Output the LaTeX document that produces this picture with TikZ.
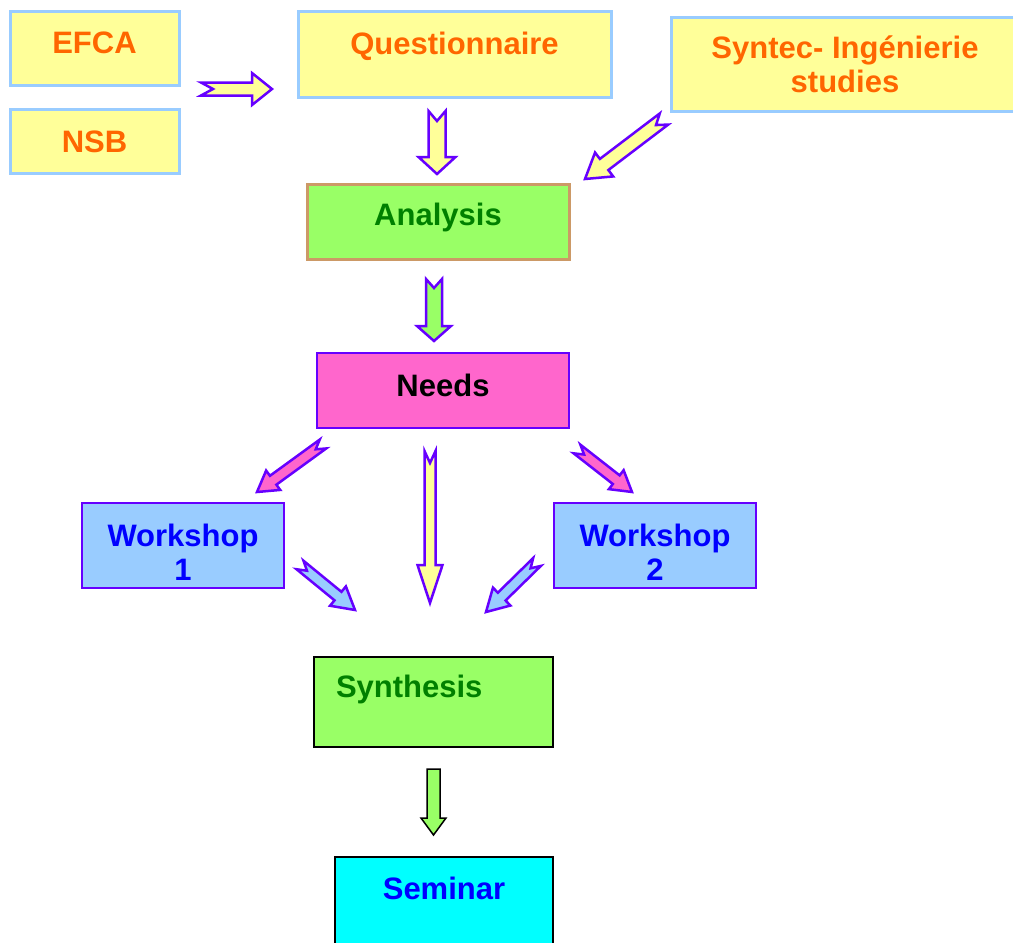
\documentclass[tikz,border=0pt]{standalone}
\usepackage{fontspec}
\setmainfont{Liberation Sans}
\usepackage{xcolor}
\usetikzlibrary{calc}
\definecolor{paleyellow}{HTML}{FFFF99}
\definecolor{skyline}{HTML}{99CCFF}
\definecolor{orangetxt}{HTML}{FF6600}
\definecolor{limefill}{HTML}{99FF66}
\definecolor{darkgreen}{HTML}{008000}
\definecolor{tanline}{HTML}{CC9966}
\definecolor{pinkfill}{HTML}{FF66CC}
\definecolor{violetline}{HTML}{6600FF}
\definecolor{bluetxt}{HTML}{0000FF}
\definecolor{cyanfill}{HTML}{00FFFF}
% block arrow: [style]{tail}{tip}{shaft half}{head half}{head length}{notch}
\newcommand{\flowarr}[7][arr]{%
  \coordinate (fh) at ($(#3)!#6!(#2)$);
  \draw[#1] ($(#2)!#4!90:(#3)$) -- ($(fh)!#4!90:(#3)$) -- ($(fh)!#5!90:(#3)$) -- (#3)
    -- ($(fh)!#5!-90:(#3)$) -- ($(fh)!#4!-90:(#3)$) -- ($(#2)!#4!-90:(#3)$)
    -- ($(#2)!#7!(#3)$) -- cycle;
}

\begin{document}
\begin{tikzpicture}[x=1pt, y=-1pt,
  box/.style={rectangle, line width=2.5pt, font=\fontsize{31}{34}\selectfont\bfseries, align=center, inner sep=0pt},
  lift/.style={text height=22pt, text depth=#1},
  src/.style={box, fill=paleyellow, draw=skyline, text=orangetxt, line width=3pt},
  wsbox/.style={box, fill=skyline, draw=violetline, text=bluetxt, minimum width=202pt, minimum height=85pt},
  wstext/.style={font=\fontsize{31}{34}\selectfont\bfseries, text=bluetxt, align=center, inner sep=0pt, yshift=-7pt},
  arr/.style={draw=violetline, line width=2.5pt, line join=miter}
]
\useasboundingbox (0,0) rectangle (1013,943);
\node[src, lift=11pt, minimum width=169pt, minimum height=74pt] (efca) at (94.5,48) {EFCA};
\node[src, lift=0pt, minimum width=169pt, minimum height=64pt] (nsb) at (94.5,141) {NSB};
\node[src, lift=22pt, minimum width=313pt, minimum height=86pt] (quest) at (454.5,54) {Questionnaire};
\node[src, minimum width=348pt, minimum height=94pt] (syntec) at (845,64) {Syntec- Ingénierie\\studies};
\node[box, fill=limefill, draw=tanline, line width=3pt, text=darkgreen, lift=15pt, minimum width=262pt, minimum height=75pt] (analysis) at (438,221.5) {Analysis};
\node[box, fill=pinkfill, draw=violetline, text=black, lift=11pt, minimum width=252pt, minimum height=75pt] (needs) at (443,390.5) {Needs};
\node[wsbox, label={[wstext]center:Workshop\\1}] (ws1) at (183,545.5) {};
\node[wsbox, label={[wstext]center:Workshop\\2}] (ws2) at (655,545.5) {};
\node[box, fill=limefill, draw=black, line width=2pt, text=darkgreen, lift=32pt, text width=195pt, align=left, inner xsep=22pt, minimum height=90pt] (synth) at (433.5,702) {Synthesis};
\node[box, fill=cyanfill, draw=black, line width=2pt, text=bluetxt, lift=28pt, minimum width=218pt, minimum height=90pt] (seminar) at (444,902) {Seminar};
% arrow ends
\coordinate (src-t) at (201,89);   \coordinate (src-h) at (272,89);
\coordinate (quest-t) at (437,111); \coordinate (quest-h) at (437,174);
\coordinate (syn-t) at (664,119);  \coordinate (syn-h) at (585,179);
\coordinate (ana-t) at (434,279);  \coordinate (ana-h) at (434,341);
\coordinate (nl-t) at (323,444);   \coordinate (nl-h) at (257,492);
\coordinate (nm-t) at (430,451);   \coordinate (nm-h) at (430,603);
\coordinate (nr-t) at (577,449);   \coordinate (nr-h) at (632,492);
\coordinate (wl-t) at (300,565);   \coordinate (wl-h) at (355,610);
\coordinate (wr-t) at (537,562);   \coordinate (wr-h) at (486,612);
\coordinate (syn2-t) at (433.5,769); \coordinate (syn2-h) at (433.5,835);
\flowarr[arr, fill=paleyellow]{src-t}{src-h}{6.5pt}{16pt}{20pt}{12pt}
\flowarr[arr, fill=paleyellow]{quest-t}{quest-h}{8.5pt}{18.5pt}{17pt}{10pt}
\flowarr[arr, fill=paleyellow]{syn-t}{syn-h}{7pt}{15pt}{24pt}{10pt}
\flowarr[arr, fill=limefill]{ana-t}{ana-h}{8pt}{17pt}{15pt}{9pt}
\flowarr[arr, fill=pinkfill]{nl-t}{nl-h}{5.5pt}{12pt}{20pt}{9pt}
\flowarr[arr, fill=paleyellow]{nm-t}{nm-h}{5.5pt}{12.5pt}{38pt}{12pt}
\flowarr[arr, fill=pinkfill]{nr-t}{nr-h}{5.5pt}{12pt}{20pt}{9pt}
\flowarr[arr, fill=skyline]{wl-t}{wl-h}{5.5pt}{12.5pt}{22pt}{9pt}
\flowarr[arr, fill=skyline]{wr-t}{wr-h}{5.5pt}{12.5pt}{22pt}{9pt}
\flowarr[draw=black, line width=1.5pt, fill=limefill]{syn2-t}{syn2-h}{6.5pt}{12.5pt}{17pt}{0pt}
\end{tikzpicture}
\end{document}
